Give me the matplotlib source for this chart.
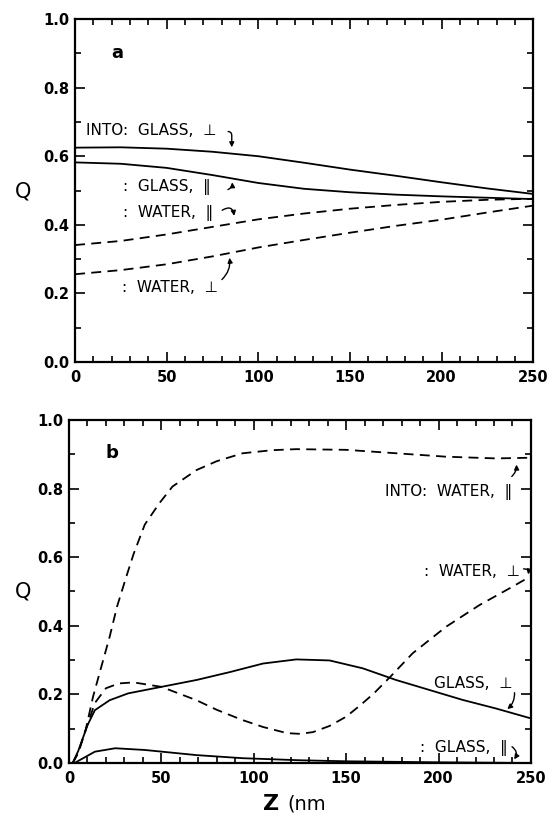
import matplotlib
matplotlib.use("Agg")
import matplotlib.pyplot as plt
from matplotlib.ticker import MultipleLocator

#=============================================================================#
# Data (Q vs Z in nm)
#=============================================================================#

# Panel a
za = [0, 25, 50, 75, 100, 125, 150, 175, 200, 225, 250]
a_glass_perp = [0.625, 0.626, 0.622, 0.613, 0.600, 0.581, 0.561, 0.543, 0.524, 0.506, 0.490]
a_glass_par = [0.582, 0.578, 0.566, 0.545, 0.522, 0.505, 0.495, 0.488, 0.483, 0.479, 0.475]
a_water_par = [0.341, 0.353, 0.372, 0.394, 0.416, 0.433, 0.447, 0.458, 0.467, 0.473, 0.476]
a_water_perp = [0.256, 0.268, 0.285, 0.308, 0.334, 0.356, 0.377, 0.397, 0.415, 0.436, 0.456]

# Panel b
zb_water_par = [2, 5, 9, 13, 17, 22, 26, 31, 35, 41, 49, 56, 69, 80, 94, 110, 123,
                150, 177, 204, 231, 250]
b_water_par = [0.0, 0.03, 0.096, 0.193, 0.271, 0.368, 0.456, 0.543, 0.61, 0.695, 0.758,
               0.806, 0.854, 0.88, 0.903, 0.912, 0.915, 0.913, 0.903, 0.893, 0.888, 0.89]

zb_water_perp = [2, 5, 9, 14, 20, 27, 35, 50, 69, 80, 94, 105, 118, 125, 132, 141, 150,
                 158, 165, 174, 186, 204, 222, 240, 250]
b_water_perp = [0.0, 0.03, 0.096, 0.175, 0.218, 0.232, 0.235, 0.222, 0.183, 0.155, 0.125,
                0.105, 0.087, 0.085, 0.09, 0.108, 0.135, 0.17, 0.203, 0.252, 0.32, 0.397,
                0.46, 0.514, 0.545]

zb_glass_perp = [2, 5, 10, 14, 22, 32, 50, 69, 87, 105, 123, 141, 159, 177, 195, 213, 231, 250]
b_glass_perp = [0.0, 0.035, 0.11, 0.154, 0.183, 0.203, 0.222, 0.242, 0.265, 0.29, 0.302,
                0.299, 0.276, 0.242, 0.213, 0.184, 0.159, 0.13]

zb_glass_par = [3, 7, 14, 25, 41, 69, 94, 125, 150, 200, 250]
b_glass_par = [0.0, 0.012, 0.033, 0.043, 0.038, 0.023, 0.014, 0.008, 0.005, 0.002, 0.0]

xticks = [0, 50, 100, 150, 200, 250]
yticks = [0.0, 0.2, 0.4, 0.6, 0.8, 1.0]

PERP = "\u22a5"
PAR = "\u2016"

# Init figure
f = plt.figure(figsize=(5.48, 8.13), dpi=100)
plt.rcParams["font.family"] = ["DejaVu Sans"]
dash = (0, (5.5, 3.5))
lw = 1.3
tfs = 10.5


def style_axes(ax):
    ax.set_xlim(0, 250)
    ax.set_ylim(0, 1.0)
    ax.set_xticks(xticks)
    ax.set_yticks(yticks)
    ax.set_xticklabels([str(t) for t in xticks])
    ax.set_yticklabels(["%.1f" % t for t in yticks])
    ax.xaxis.set_minor_locator(MultipleLocator(10))
    ax.yaxis.set_minor_locator(MultipleLocator(0.1))
    ax.tick_params(which="both", direction="in", top=True, right=True, width=1.2)
    ax.tick_params(which="major", length=7, labelsize=tfs)
    ax.tick_params(which="minor", length=4)
    ax.tick_params(axis="x", pad=6)
    ax.tick_params(axis="y", pad=4)
    for lab in ax.get_xticklabels() + ax.get_yticklabels():
        lab.set_fontweight("bold")
    for s in ax.spines.values():
        s.set_linewidth(1.6)


arrow = dict(arrowstyle="-|>", color="k", lw=1.0, mutation_scale=7)

#=============================================================================#
# Panel a
#=============================================================================#
ax = f.add_axes([0.137, 0.5547, 0.836, 0.4219])
ax.plot(za, a_glass_perp, color="k", lw=lw)
ax.plot(za, a_glass_par, color="k", lw=lw)
ax.plot(za, a_water_par, color="k", lw=lw, linestyle=dash)
ax.plot(za, a_water_perp, color="k", lw=lw, linestyle=dash)
style_axes(ax)
ax.text(20, 0.90, "a", fontsize=13, fontweight="bold", va="center")

ax.text(6, 0.676, "INTO:  GLASS,  " + PERP, fontsize=11, va="center")
ax.annotate("", xy=(85.5, 0.618), xytext=(82, 0.672),
            arrowprops=dict(arrow, connectionstyle="angle,angleA=0,angleB=90,rad=4"))
ax.text(26, 0.51, ":  GLASS,  " + PAR, fontsize=11, va="center")
ax.annotate("", xy=(85.5, 0.532), xytext=(82, 0.500),
            arrowprops=dict(arrow, connectionstyle="arc3,rad=0.5"))
ax.text(26, 0.434, ":  WATER,  " + PAR, fontsize=11, va="center")
ax.annotate("", xy=(87, 0.418), xytext=(79, 0.438),
            arrowprops=dict(arrow, connectionstyle="arc3,rad=-0.9"))
ax.text(25.5, 0.216, ":  WATER,  " + PERP, fontsize=11, va="center")
ax.annotate("", xy=(84, 0.312), xytext=(79, 0.235),
            arrowprops=dict(arrow, connectionstyle="arc3,rad=0.3"))

f.text(0.042, 0.764, "Q", fontsize=15, ha="center", va="center")

#=============================================================================#
# Panel b
#=============================================================================#
ax = f.add_axes([0.1259, 0.0615, 0.843, 0.4219])
ax.plot(zb_water_par, b_water_par, color="k", lw=lw, linestyle=dash)
ax.plot(zb_water_perp, b_water_perp, color="k", lw=lw, linestyle=dash)
ax.plot(zb_glass_perp, b_glass_perp, color="k", lw=lw)
ax.plot(zb_glass_par, b_glass_par, color="k", lw=lw)
style_axes(ax)
ax.text(19.5, 0.903, "b", fontsize=13, fontweight="bold", va="center")

ax.text(240, 0.79, "INTO:  WATER,  " + PAR, fontsize=11, va="center", ha="right")
ax.annotate("", xy=(242, 0.878), xytext=(238.5, 0.83),
            arrowprops=dict(arrow, connectionstyle="arc3,rad=0.3"))
ax.text(244, 0.557, ":  WATER,  " + PERP, fontsize=11, va="center", ha="right")
ax.annotate("", xy=(248, 0.542), xytext=(244.5, 0.565),
            arrowprops=dict(arrow, connectionstyle="arc3,rad=-0.9"))
ax.text(240, 0.233, "GLASS,  " + PERP, fontsize=11, va="center", ha="right")
ax.annotate("", xy=(236, 0.152), xytext=(241, 0.213),
            arrowprops=dict(arrow, connectionstyle="arc3,rad=-0.3"))
ax.text(237.5, 0.044, ":  GLASS,  " + PAR, fontsize=11, va="center", ha="right")
ax.annotate("", xy=(240, 0.004), xytext=(238.5, 0.052),
            arrowprops=dict(arrow, connectionstyle="arc3,rad=-0.6"))

f.text(0.042, 0.272, "Q", fontsize=15, ha="center", va="center")
f.text(0.48, 0.004, "Z", fontsize=16, fontweight="bold", va="baseline")
f.text(0.525, 0.004, "(nm", fontsize=14, va="baseline")

f.savefig("out.png", dpi=100)
